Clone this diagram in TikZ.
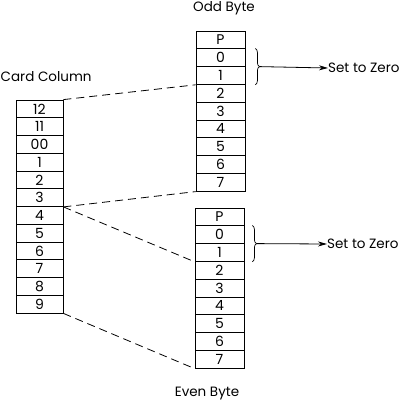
\documentclass[tikz,border=0pt]{standalone}
\usepackage{fontspec}
\setmainfont{Poppins}
\usetikzlibrary{decorations.pathreplacing,arrows.meta,calc}
\begin{document}
\begin{tikzpicture}[x=1pt,y=-1pt,
  cell/.style={draw,line width=0.8pt,minimum width=47pt,minimum height=17.75pt,inner sep=0pt,font=\fontsize{14}{14}\selectfont},
  bcell/.style={draw,line width=0.8pt,minimum width=49pt,minimum height=17.8pt,inner sep=0pt,font=\fontsize{14}{14}\selectfont},
  dashline/.style={line width=0.8pt,dash pattern=on 8pt off 5pt},
  lbl/.style={font=\fontsize{13.5}{13.5}\selectfont,inner sep=0pt},
  bracestyle/.style={decorate,decoration={brace,amplitude=4pt},line width=0.7pt},
  arr/.style={line width=0.8pt,-{Stealth[length=9pt,width=5pt]}}]
\useasboundingbox (0,0) rectangle (402,408);
% card column
\foreach \t [count=\i] in {12,11,00,1,2,3,4,5,6,7,8,9}
  \node[cell] (c\i) at (39.5,{100+17.75*(\i-0.5)}) {\t};
% odd byte
\foreach \t [count=\i] in {P,0,1,2,3,4,5,6,7}
  \node[bcell] (o\i) at (220.5,{31+17.8*(\i-0.5)}) {\t};
% even byte
\foreach \t [count=\i] in {P,0,1,2,3,4,5,6,7}
  \node[bcell] (e\i) at (219.5,{208+17.8*(\i-0.5)}) {\t};
% labels
\node[lbl] (lodd) at (224,8) {Odd Byte};
\node[lbl,anchor=west] (lcard) at (0.5,77) {Card Column};
\node[lbl] (leven) at (207,394) {Even Byte};
% dashed connectors
\draw[dashline] (c1.north east) -- (o3.south west);
\draw[dashline] (c6.south east) -- (o9.south west);
\draw[dashline] (c6.south east) -- (e3.south west);
\draw[dashline] (c12.south east) -- (e9.south west);
% braces
\draw[bracestyle] ($(o2.north east)+(10,0)$) -- ($(o3.south east)+(10,0)$) coordinate[midway,xshift=4pt] (bo);
\draw[bracestyle] ($(e2.north east)+(8,0)$) -- ($(e3.south east)+(8,0)$) coordinate[midway,xshift=4pt] (be);
\node[lbl,anchor=west] (so) at (328,68) {Set to Zero};
\node[lbl,anchor=west] (se) at (327,244) {Set to Zero};
\draw[arr] (bo) -- (so.west);
\draw[arr] (be) -- (se.west);
\end{tikzpicture}
\end{document}
